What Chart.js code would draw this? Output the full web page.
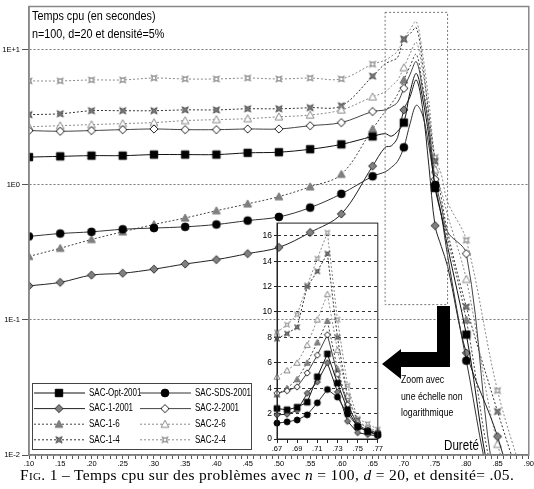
<!DOCTYPE html>
<html>
<head>
<meta charset="utf-8">
<script src="https://cdn.jsdelivr.net/npm/chart.js@4"></script>
<style>
  body { margin: 0; background: #fff; width: 534px; height: 489px; position: relative; overflow: hidden; }
  #main { position: absolute; left: 0; top: 0; width: 534px; height: 468px; }
  #zoom { position: absolute; left: 258px; top: 216px; width: 126px; height: 240px; }
  .note { position: absolute; color: #000; white-space: nowrap; font-family: 'Liberation Sans', Arial, sans-serif; transform: scaleX(0.83); transform-origin: left top; }
  #caption { position: absolute; left: 20px; top: 466px; font-family: 'Liberation Serif', 'DejaVu Serif', serif; font-size: 15.5px; letter-spacing: 0.35px; white-space: nowrap; }
</style>
</head>
<body>
<div id="main"><canvas id="mainChart"></canvas></div>
<div id="zoom"><canvas id="zoomChart"></canvas></div>
<div class="note" style="left:32px;top:7px;font-size:13px;line-height:18px">Temps cpu (en secondes)<br>n=100, d=20 et densité=5%</div>
<div class="note" style="left:401px;top:371px;font-size:10.5px;line-height:16.5px">Zoom avec<br>une échelle non<br>logarithmique</div>
<div class="note" style="left:444px;top:437px;font-size:14px">Dureté</div>
<div id="caption"><span style="font-variant:small-caps">Fig.</span> 1 – Temps cpu sur des problèmes avec <i>n</i> = 100, <i>d</i> = 20, et densité= .05.</div>
<script>
// hardness values (x axis)
const xValues = [0.10, 0.15, 0.20, 0.25, 0.30, 0.35, 0.40, 0.45, 0.50, 0.55, 0.60, 0.65,
  0.67, 0.68, 0.69, 0.70, 0.71, 0.72, 0.73, 0.74, 0.75, 0.76, 0.77, 0.80, 0.85, 0.90];

// cpu time in seconds, one array per algorithm
const sacOpt2001 = [1.61, 1.63, 1.65, 1.65, 1.68, 1.68, 1.68, 1.73, 1.75, 1.84, 2.0, 2.29,
  2.4, 2.3, 2.5, 2.9, 4.9, 6.7, 4.4, 2.3, 0.95, 0.6, 0.35, 0.078, 0.004, 0.002];
const sacSds2001 = [0.416, 0.437, 0.45, 0.47, 0.48, 0.49, 0.51, 0.545, 0.58, 0.68, 0.86, 1.16,
  1.25, 1.35, 1.5, 1.9, 2.85, 3.9, 3.3, 1.95, 1.0, 0.6, 0.3, 0.05, 0.004, 0.002];
const sac1_2001 = [0.179, 0.19, 0.215, 0.222, 0.238, 0.26, 0.28, 0.31, 0.345, 0.445, 0.61, 1.38,
  1.9, 1.95, 2.25, 3.6, 4.5, 6.0, 3.7, 1.4, 0.5, 0.35, 0.25, 0.057, 0.0137, 0.002];
const sac2_2001 = [2.53, 2.5, 2.53, 2.57, 2.6, 2.57, 2.57, 2.6, 2.6, 2.75, 2.9, 3.5,
  3.6, 3.8, 4.1, 5.2, 6.6, 8.2, 5.1, 2.7, 1.1, 0.7, 0.45, 0.31, 0.005, 0.002];
const sac1_6 = [0.296, 0.34, 0.395, 0.45, 0.51, 0.57, 0.645, 0.725, 0.82, 0.97, 1.2, 2.6,
  3.5, 4.0, 4.7, 6.0, 7.6, 9.3, 5.5, 2.8, 1.0, 0.6, 0.4, 0.10, 0.005, 0.002];
const sac2_6 = [2.7, 2.75, 2.8, 2.85, 2.9, 3.0, 3.05, 3.1, 3.2, 3.3, 3.6, 4.5,
  4.9, 5.4, 6.0, 7.4, 9.4, 11.4, 7.0, 3.4, 1.3, 0.9, 0.6, 0.2, 0.012, 0.003];
const sac1_4 = [3.32, 3.37, 3.55, 3.55, 3.55, 3.6, 3.6, 3.67, 3.67, 3.74, 3.86, 6.4,
  7.9, 8.3, 8.8, 12.0, 13.2, 14.6, 8.0, 3.3, 1.5, 0.8, 0.45, 0.125, 0.021, 0.004];
const sac2_4 = [5.9, 5.9, 6.0, 6.0, 6.2, 6.1, 6.1, 6.2, 6.1, 6.2, 6.1, 7.85,
  8.4, 9.0, 9.8, 12.1, 14.2, 16.25, 9.4, 4.2, 1.6, 1.2, 0.75, 0.39, 0.03, 0.005];

const yTickLabels = { '0.01': '1E-2', '0.1': '1E-1', '1': '1E0', '10': '1E+1' };
const zoomRange = [0.67, 0.77];

// marker images
function makeMarker(shape, fill, stroke, r) {
  const size = Math.ceil(2 * r + 4);
  const c = document.createElement('canvas');
  c.width = size; c.height = size;
  const g = c.getContext('2d');
  g.translate(size / 2, size / 2);
  g.lineWidth = 1;
  g.beginPath();
  if (shape === 'square') {
    g.rect(-r * 0.95, -r * 0.95, 1.9 * r, 1.9 * r);
  } else if (shape === 'circle') {
    g.arc(0, 0, r, 0, 2 * Math.PI);
  } else if (shape === 'diamond') {
    g.moveTo(0, -r * 1.05); g.lineTo(r * 1.05, 0); g.lineTo(0, r * 1.05); g.lineTo(-r * 1.05, 0); g.closePath();
  } else if (shape === 'triangle') {
    g.moveTo(0, -r); g.lineTo(r, r * 0.8); g.lineTo(-r, r * 0.8); g.closePath();
  } else {
    for (let i = 0; i < 8; i++) {
      const a = Math.PI / 4 + i * Math.PI / 4;
      const rr = i % 2 === 0 ? r * 1.15 : r * 0.42;
      const px = Math.cos(a) * rr, py = Math.sin(a) * rr;
      if (i === 0) g.moveTo(px, py); else g.lineTo(px, py);
    }
    g.closePath();
  }
  g.fillStyle = fill; g.fill();
  g.strokeStyle = stroke; g.stroke();
  if (shape === 'starbox') {
    g.strokeRect(-r * 0.45, -r * 0.45, r * 0.9, r * 0.9);
  }
  return c;
}

const seriesDefs = [
  { label: 'SAC-Opt-2001', data: sacOpt2001, shape: 'square', fill: '#000', stroke: '#000', line: '#111', dash: [] },
  { label: 'SAC-SDS-2001', data: sacSds2001, shape: 'circle', fill: '#000', stroke: '#000', line: '#333', dash: [] },
  { label: 'SAC-1-2001', data: sac1_2001, shape: 'diamond', fill: '#808080', stroke: '#333', line: '#222', dash: [] },
  { label: 'SAC-2-2001', data: sac2_2001, shape: 'diamond', fill: '#fff', stroke: '#222', line: '#444', dash: [] },
  { label: 'SAC-1-6', data: sac1_6, shape: 'triangle', fill: '#808080', stroke: '#777', line: '#444', dash: [2, 2] },
  { label: 'SAC-2-6', data: sac2_6, shape: 'triangle', fill: '#fff', stroke: '#888', line: '#888', dash: [2, 2] },
  { label: 'SAC-1-4', data: sac1_4, shape: 'star', fill: '#7a7a7a', stroke: '#555', line: '#333', dash: [2, 2] },
  { label: 'SAC-2-4', data: sac2_4, shape: 'starbox', fill: '#fff', stroke: '#999', line: '#888', dash: [2, 2] }
];
seriesDefs.forEach(s => {
  s.big = makeMarker(s.shape, s.fill, s.stroke, 3.9);
  s.small = makeMarker(s.shape, s.fill, s.stroke, 3);
});

function isMajor(x) { return Math.abs(Math.round(x * 20) - x * 20) < 1e-6; }
function fmt(x) { return '.' + Math.round(x * 100).toString().padStart(2, '0'); }

const framePlugin = {
  id: 'frame',
  afterDraw(chart, args, opts) {
    const { ctx, chartArea: a } = chart;
    ctx.save();
    ctx.strokeStyle = opts.color; ctx.lineWidth = opts.width;
    ctx.strokeRect(a.left, a.top, a.right - a.left, a.bottom - a.top);
    ctx.restore();
  }
};

const zoomBoxPlugin = {
  id: 'zoomBox',
  afterDatasetsDraw(chart) {
    const { ctx, scales: { x, y } } = chart;
    const l = x.getPixelForValue(zoomRange[0]), r = x.getPixelForValue(zoomRange[1]);
    const t = y.getPixelForValue(19), b = y.getPixelForValue(0.13);
    ctx.save();
    ctx.strokeStyle = '#777'; ctx.lineWidth = 1; ctx.setLineDash([2, 2]);
    ctx.strokeRect(l, t, r - l, b - t);
    ctx.restore();
  }
};

const arrowPlugin = {
  id: 'arrow',
  afterDraw(chart) {
    const ctx = chart.ctx;
    const pts = [[382, 364], [401, 349], [401, 352], [437, 352], [437, 306], [450, 306], [450, 367], [401, 367], [401, 379]];
    ctx.save();
    ctx.fillStyle = '#000';
    ctx.beginPath();
    pts.forEach((p, i) => i ? ctx.lineTo(p[0], p[1]) : ctx.moveTo(p[0], p[1]));
    ctx.closePath(); ctx.fill();
    ctx.restore();
  }
};

const legendPlugin = {
  id: 'boxLegend',
  afterDraw(chart) {
    const ctx = chart.ctx;
    ctx.save();
    ctx.fillStyle = '#fff';
    ctx.fillRect(32.5, 383.5, 219, 66);
    ctx.strokeStyle = '#444'; ctx.lineWidth = 1;
    ctx.strokeRect(32.5, 383.5, 219, 66);
    ctx.font = '10px "Liberation Sans", Arial';
    ctx.textBaseline = 'middle';
    seriesDefs.forEach((s, i) => {
      const col = i % 2, row = Math.floor(i / 2);
      const x0 = col ? 140 : 34, y = 393 + row * 15.6;
      ctx.strokeStyle = s.line; ctx.lineWidth = 1; ctx.setLineDash(s.dash);
      ctx.beginPath(); ctx.moveTo(x0, y); ctx.lineTo(x0 + 51, y); ctx.stroke();
      ctx.setLineDash([]);
      ctx.drawImage(s.big, x0 + 25 - s.big.width / 2, y - s.big.height / 2);
      ctx.fillStyle = '#000';
      ctx.save();
      ctx.translate(x0 + 55, y);
      ctx.scale(0.8, 1);
      ctx.fillText(s.label, 0, 0);
      ctx.restore();
    });
    ctx.restore();
  }
};

const tickFont = { family: '"Liberation Sans", Arial', size: 7.5 };

// main chart, log scale
new Chart(document.getElementById('mainChart'), {
  type: 'line',
  data: {
    datasets: seriesDefs.map(s => ({
      label: s.label,
      data: xValues.map((x, i) => ({ x: x, y: s.data[i] })),
      borderColor: s.line,
      borderWidth: 1,
      borderDash: s.dash,
      tension: 0.35,
      pointStyle: s.big,
      pointRadius: ctx => isMajor(xValues[ctx.dataIndex]) ? 4 : 0,
      fill: false
    }))
  },
  options: {
    animation: false,
    responsive: true,
    maintainAspectRatio: false,
    layout: { padding: { top: 3, right: 3 } },
    plugins: {
      legend: { display: false },
      tooltip: { enabled: false },
      frame: { color: '#888', width: 1.5 }
    },
    scales: {
      x: {
        type: 'linear', min: 0.10, max: 0.90,
        afterBuildTicks: s => {
          const t = [];
          for (let i = 10; i <= 90; i++) t.push({ value: i / 100 });
          s.ticks = t;
        },
        afterFit: s => { s.height = 13; },
        ticks: { autoSkip: false, maxRotation: 0, padding: 0, color: '#000', font: tickFont,
          callback: v => isMajor(v) ? fmt(v) : '' },
        grid: { drawOnChartArea: false, tickLength: 4, color: '#555' },
        border: { color: '#555', width: 1.2 }
      },
      y: {
        type: 'logarithmic', min: 0.01, max: 21,
        afterBuildTicks: s => { s.ticks = [0.01, 0.1, 1, 10].map(v => ({ value: v })); },
        afterFit: s => { s.width = 29; },
        ticks: { padding: 2, color: '#000', font: tickFont, callback: v => yTickLabels[String(v)] },
        grid: { color: '#777', tickLength: 7, tickColor: '#555' },
        border: { color: '#888', width: 1.5, dash: [2, 2] }
      }
    }
  },
  plugins: [framePlugin, zoomBoxPlugin, arrowPlugin, legendPlugin]
});

// zoom inset, linear scale
const zoomIdx = xValues.map((x, i) => i).filter(i => xValues[i] >= zoomRange[0] - 1e-9 && xValues[i] <= zoomRange[1] + 1e-9);
new Chart(document.getElementById('zoomChart'), {
  type: 'line',
  data: {
    datasets: seriesDefs.map(s => ({
      label: s.label,
      data: zoomIdx.map(i => ({ x: xValues[i], y: s.data[i] })),
      borderColor: s.line,
      borderWidth: 1,
      borderDash: s.dash,
      tension: 0,
      pointStyle: s.small,
      pointRadius: 3,
      clip: 4
    }))
  },
  options: {
    animation: false,
    responsive: true,
    maintainAspectRatio: false,
    layout: { padding: { top: 5, right: 4 } },
    plugins: {
      legend: { display: false },
      tooltip: { enabled: false },
      frame: { color: '#222', width: 1 }
    },
    scales: {
      x: {
        type: 'linear', min: zoomRange[0], max: zoomRange[1],
        afterBuildTicks: s => {
          const t = [];
          for (let i = 67; i <= 77; i++) t.push({ value: i / 100 });
          s.ticks = t;
        },
        afterFit: s => { s.height = 17; },
        ticks: { autoSkip: false, maxRotation: 0, padding: 1, color: '#000', font: tickFont,
          callback: (v, i) => i % 2 === 0 ? fmt(v) : '' },
        grid: { drawOnChartArea: false, tickLength: 4, color: '#222' },
        border: { color: '#222', width: 1 }
      },
      y: {
        type: 'linear', min: 0, max: 17,
        afterBuildTicks: s => {
          const t = [];
          for (let v = 0; v <= 16; v += 2) t.push({ value: v });
          s.ticks = t;
        },
        afterFit: s => { s.width = 19; },
        ticks: { padding: 2, color: '#000', font: { family: '"Liberation Sans", Arial', size: 8.5 } },
        grid: { color: '#333', tickLength: 3, tickColor: '#222' },
        border: { color: '#222', width: 1, dash: [3, 3] }
      }
    }
  },
  plugins: [framePlugin]
});
</script>
</body>
</html>
